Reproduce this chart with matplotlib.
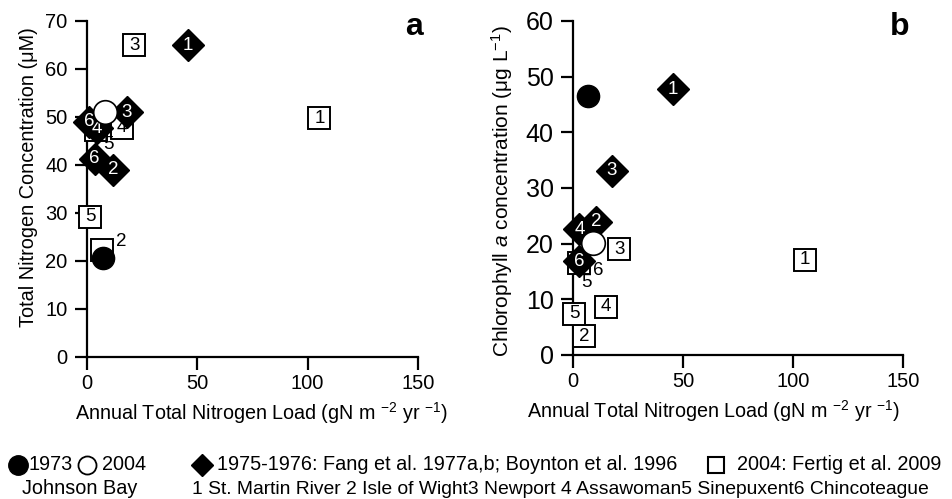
import matplotlib
matplotlib.use('Agg')
import matplotlib.pyplot as plt
from matplotlib.lines import Line2D

plt.rcParams['font.family'] = ['Liberation Sans', 'DejaVu Sans']
plt.rcParams['mathtext.fontset'] = 'custom'
plt.rcParams['mathtext.rm'] = 'Liberation Sans'
plt.rcParams['mathtext.it'] = 'Liberation Sans:italic'

# ---- panel a: total nitrogen ----
a_1973 = (7.1, 20.6)
a_2004 = (8.3, 51.0)
a_dia_lab = ['1', '2', '3', '4', '6', '6']
a_dia_x = [45.6, 11.9, 18.0, 4.6, 1.0, 3.5]
a_dia_y = [64.9, 39.0, 51.0, 47.6, 49.0, 41.3]
a_sq_lab = ['1', '', '3', '4', '5', '']
a_sq_x = [105.3, 6.7, 21.4, 15.7, 1.4, 4.0]
a_sq_y = [49.7, 22.3, 64.9, 47.8, 29.2, 47.3]
a_txt_lab = ['5', '2']
a_txt_x = [9.5, 15.4]
a_txt_y = [44.2, 24.0]

# ---- panel b: chlorophyll a ----
b_1973 = (7.0, 46.6)
b_2004 = (8.9, 20.2)
b_dia_lab = ['1', '2', '3', '4', '6']
b_dia_x = [45.3, 10.5, 17.6, 2.9, 2.6]
b_dia_y = [47.7, 23.9, 33.1, 22.6, 16.8]
b_sq_lab = ['1', '2', '3', '4', '5', '']
b_sq_x = [105.5, 5.2, 21.0, 15.0, 0.5, 2.6]
b_sq_y = [17.1, 3.4, 19.0, 8.7, 7.4, 16.5]
b_txt_lab = ['6', '5']
b_txt_x = [11.5, 5.9]
b_txt_y = [15.2, 13.0]

fig = plt.figure(figsize=(9.53, 4.99), dpi=100)
ax_a = fig.add_axes([0.0913, 0.2846, 0.3473, 0.6734])
ax_b = fig.add_axes([0.6013, 0.2886, 0.3462, 0.6694])

xlab = 'Annual Total Nitrogen Load (gN m $^{-2}$ yr $^{-1}$)'


def draw(ax, c73, c04, dl, dx, dy, sl, sx, sy, tl, tx, ty, ymax, ystep):
    for l, x, y in zip(sl, sx, sy):
        ax.plot(x, y, 's', ms=16, mfc='white', mec='black', mew=1.4, clip_on=False, zorder=3)
        if l:
            ax.text(x, y, l, ha='center', va='center', fontsize=13.5, color='black', zorder=3.1)
    for l, x, y in zip(dl, dx, dy):
        ax.plot(x, y, 'D', ms=16, mfc='black', mec='black', clip_on=False, zorder=4)
        ax.text(x, y, l, ha='center', va='center', fontsize=13.5, color='white', zorder=4.1)
    for l, x, y in zip(tl, tx, ty):
        ax.text(x, y, l, ha='center', va='center', fontsize=13.5, color='black', zorder=5)
    ax.plot(*c73, 'o', ms=16, mfc='black', mec='black', clip_on=False, zorder=6)
    ax.plot(*c04, 'o', ms=17, mfc='white', mec='black', mew=1.2, clip_on=False, zorder=6)
    ax.set_xlim(0, 150)
    ax.set_ylim(0, ymax)
    ax.set_xticks([0, 50, 100, 150])
    ax.set_yticks(range(0, ymax + 1, ystep))
    for s in ['top', 'right']:
        ax.spines[s].set_visible(False)
    for s in ['left', 'bottom']:
        ax.spines[s].set_linewidth(1.6)
    ax.tick_params(direction='out', length=9, width=1.6, labelsize=14.5)
    ax.tick_params(axis='x', pad=3.5)
    ax.tick_params(axis='y', pad=5)
    ax.set_xlabel(xlab, fontsize=14.2)


draw(ax_a, a_1973, a_2004, a_dia_lab, a_dia_x, a_dia_y, a_sq_lab, a_sq_x, a_sq_y,
     a_txt_lab, a_txt_x, a_txt_y, 70, 10)
draw(ax_b, b_1973, b_2004, b_dia_lab, b_dia_x, b_dia_y, b_sq_lab, b_sq_x, b_sq_y,
     b_txt_lab, b_txt_x, b_txt_y, 60, 10)
ax_b.tick_params(axis='y', labelsize=18, pad=5)

ax_a.xaxis.set_label_coords(0.526, -0.128)
ax_b.xaxis.set_label_coords(0.427, -0.128)

ax_a.set_ylabel('Total Nitrogen Concentration (\u03bcM)', fontsize=14.3)
ax_a.yaxis.set_label_coords(-0.148, 0.534)
ax_b.set_ylabel('Chlorophyll $\\it{a}$ concentration (\u03bcg L$^{-1}$)', fontsize=15)
ax_b.yaxis.set_label_coords(-0.176, 0.49)

ax_a.text(1.015, 0.958, 'a', transform=ax_a.transAxes, fontsize=23, fontweight='bold',
          ha='right', va='baseline')
ax_b.text(1.021, 0.958, 'b', transform=ax_b.transAxes, fontsize=23, fontweight='bold',
          ha='right', va='baseline')

# ---- legend text at the bottom ----
W, H = 953, 499
lfs = 14.3
ly1 = 1 - 465 / H
ly2 = 1 - 489 / H
fig.add_artist(Line2D([18 / W], [ly1], marker='o', ms=14, mfc='black', mec='black', transform=fig.transFigure))
fig.text(29 / W, ly1, '1973', fontsize=lfs, va='center')
fig.add_artist(Line2D([87 / W], [ly1], marker='o', ms=13, mfc='white', mec='black', mew=1.3, transform=fig.transFigure))
fig.text(102 / W, ly1, '2004', fontsize=lfs, va='center')
fig.add_artist(Line2D([202 / W], [ly1], marker='D', ms=11.5, mfc='black', mec='black', transform=fig.transFigure))
fig.text(217 / W, ly1, '1975-1976: Fang et al. 1977a,b; Boynton et al. 1996', fontsize=lfs, va='center')
fig.add_artist(Line2D([716 / W], [ly1], marker='s', ms=12, mfc='white', mec='black', mew=1.5, transform=fig.transFigure))
fig.text(737 / W, ly1, '2004: Fertig et al. 2009', fontsize=lfs, va='center')
fig.text(80 / W, ly2, 'Johnson Bay', fontsize=lfs, va='center', ha='center')
fig.text(192 / W, ly2, '1 St. Martin River 2 Isle of Wight3 Newport 4 Assawoman5 Sinepuxent6 Chincoteague',
         fontsize=13.9, va='center')

fig.savefig('out.png', dpi=100)
